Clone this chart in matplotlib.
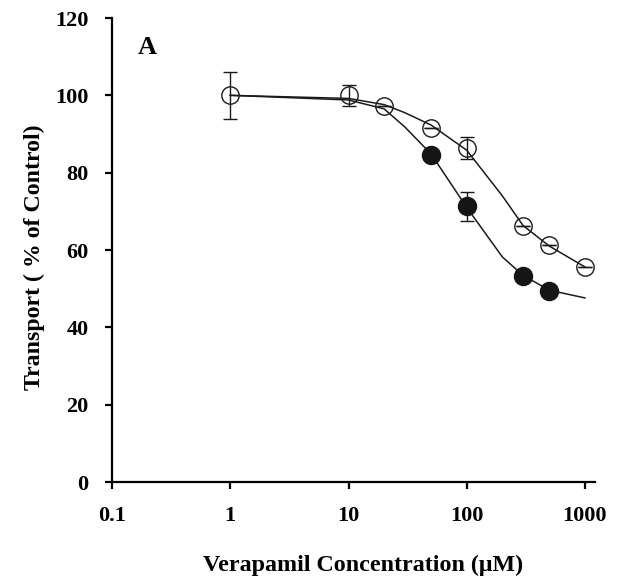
import matplotlib
matplotlib.use("Agg")
import matplotlib.pyplot as plt

# Data
conc_open = [1, 10, 20, 50, 100, 300, 500, 1000]
open_vals = [100, 100, 97.2, 91.6, 86.4, 66.1, 61.2, 55.6]
open_err = [6.0, 2.7, 0, 0, 2.8, 0, 0, 0]

conc_filled = [50, 100, 300, 500]
filled_vals = [84.6, 71.3, 53.4, 49.4]
filled_err = [0, 3.7, 0, 0]

fit_conc = [1, 10, 20, 30, 50, 100, 200, 300, 500, 1000]
open_fit = [100, 99.2, 97.6, 95.5, 92.3, 85.8, 74.0, 66.3, 61.0, 55.6]
filled_fit = [100, 98.8, 96.5, 91.8, 84.8, 71.0, 58.2, 53.4, 49.6, 47.6]

xticks = [0.1, 1, 10, 100, 1000]
xticklabels = ["0.1", "1", "10", "100", "1000"]
yticks = [0, 20, 40, 60, 80, 100, 120]

plt.rcParams['font.family'] = ['Liberation Serif', 'DejaVu Serif']
plt.rcParams['font.weight'] = 'bold'

W, H = 623, 576
fig = plt.figure(figsize=(W/100, H/100), dpi=100)
ax = fig.add_axes([112/W, 1-482/H, (595-112)/W, (482-18)/H])

ax.plot(fit_conc, open_fit, color='#1a1a1a', lw=1.1, zorder=2)
ax.plot(fit_conc, filled_fit, color='#1a1a1a', lw=1.1, zorder=2)

ax.errorbar(conc_open, open_vals, yerr=open_err, fmt='o', ms=12.5,
            mfc='none', mec='#1a1a1a', mew=1.0, ecolor='#1a1a1a',
            elinewidth=1.0, capsize=5, capthick=1.0, zorder=3)
ax.errorbar(conc_filled, filled_vals, yerr=filled_err, fmt='o', ms=13,
            mfc='#151515', mec='#151515', mew=1.0, ecolor='#1a1a1a',
            elinewidth=1.0, capsize=5, capthick=1.0, zorder=4)

ax.set_xscale('log')
ax.set_xlim(0.1, 10**(3 + 10/118.25))
ax.set_ylim(0, 120)
ax.set_xticks(xticks)
ax.set_xticklabels(xticklabels)
ax.minorticks_off()
ax.set_yticks(yticks)

for s in ['top', 'right']:
    ax.spines[s].set_visible(False)
for s in ['left', 'bottom']:
    ax.spines[s].set_linewidth(1.6)

ax.tick_params(axis='both', direction='out', length=5, width=1.6,
               labelsize=16)
ax.tick_params(axis='y', pad=12)
ax.tick_params(axis='x', pad=12)
for lab in ax.get_xticklabels() + ax.get_yticklabels():
    lab.set_fontweight('bold')

fig.text(363/W, 1-571/H, "Verapamil Concentration (\u03bcM)", fontsize=17.3,
         fontweight='bold', ha='center', va='baseline')
fig.text(34/W, 1-257/H, "Transport ( % of Control)", fontsize=17.2,
         fontweight='bold', ha='center', va='center', rotation=90)

ax.text(0.2, 112.5, "A", fontsize=19, fontweight='bold', ha='center',
        va='center')

fig.savefig("out.png", dpi=100)
